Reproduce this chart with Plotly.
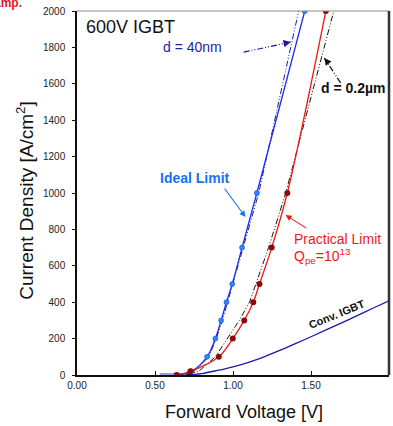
import plotly.graph_objects as go

# Forward voltage [V] / current density [A/cm^2] data for the 600V IGBT comparison
ideal_v = [0.641, 0.733, 0.834, 0.887, 0.924, 0.958, 0.995, 1.058, 1.153, 1.460]
ideal_j = [0, 20, 100, 200, 300, 400, 500, 700, 1000, 2000]

practical_v = [0.639, 0.727, 0.909, 0.999, 1.072, 1.130, 1.170, 1.248, 1.348, 1.595]
practical_j = [0, 20, 100, 200, 300, 400, 500, 700, 1000, 2000]

d40_v = [0.66, 0.75, 0.845, 0.893, 0.932, 0.965, 1.000, 1.165, 1.421]
d40_j = [0, 20, 100, 200, 300, 400, 500, 1000, 2000]

d02_v = [0.70, 0.78, 0.887, 0.963, 1.040, 1.106, 1.228, 1.338, 1.646]
d02_j = [0, 20, 100, 200, 300, 400, 700, 1000, 2000]

conv_v = [0.70, 0.80, 0.90, 1.00, 1.10, 1.20, 1.30, 1.40, 1.50, 1.60, 1.70, 1.80, 1.90, 2.00]
conv_j = [0, 8, 25, 45, 70, 100, 135, 172, 210, 249, 288, 328, 368, 408]

base_v = [0.53, 0.72]
base_j = [0, 0]

x_ticks = [0.0, 0.5, 1.0, 1.5, 2.0]
x_tick_text = ["0.00", "0.50", "1.00", "1.50", "2.00"]
y_ticks = list(range(0, 2001, 200))

FONT = "Liberation Sans, Arial, sans-serif"
DASHDOT = "6px,2px,1px,2px,1px,2px"

fig = go.Figure()

fig.add_trace(go.Scatter(x=base_v, y=base_j, mode="lines",
                         line=dict(color="#9b9be8", width=4), hoverinfo="skip"))
fig.add_trace(go.Scatter(x=conv_v, y=conv_j, mode="lines", line_shape="spline",
                         line=dict(color="#1a1aa8", width=1.3), name="Conv. IGBT"))
fig.add_trace(go.Scatter(x=d40_v, y=d40_j, mode="lines",
                         line=dict(color="#1a1a9a", width=1, dash=DASHDOT), name="d = 40nm"))
fig.add_trace(go.Scatter(x=d02_v, y=d02_j, mode="lines",
                         line=dict(color="#111111", width=1, dash=DASHDOT), name="d = 0.2um"))
fig.add_trace(go.Scatter(x=ideal_v, y=ideal_j, mode="lines+markers", line_shape="spline",
                         line=dict(color="#1c2cf0", width=1.3),
                         marker=dict(color="#1f8fff", size=5, line=dict(color="#1c2cf0", width=0.5)),
                         name="Ideal Limit"))
fig.add_trace(go.Scatter(x=practical_v, y=practical_j, mode="lines+markers", line_shape="spline",
                         line=dict(color="#f01818", width=1.3),
                         marker=dict(color="#8a0b0b", size=6),
                         name="Practical Limit"))

# leader lines for the dashed-curve labels
fig.add_shape(type="line", x0=1.068, y0=1774, x1=1.37, y1=1829,
              line=dict(color="#1a1a9a", width=1.2, dash=DASHDOT))
fig.add_shape(type="line", x0=1.69, y0=1605, x1=1.585, y1=1742,
              line=dict(color="#111111", width=1.2, dash=DASHDOT))

# frame: gray top edge, dark right edge
fig.add_shape(type="line", xref="paper", yref="paper", x0=0, y0=1, x1=1, y1=1,
              line=dict(color="#8a8a8a", width=1))
fig.add_shape(type="line", xref="paper", yref="paper", x0=1, y0=0, x1=1, y1=1,
              line=dict(color="#333333", width=2.5))

ann = []
ann.append(dict(x=0.045, y=1912, text="600V IGBT", showarrow=False, xanchor="left",
                font=dict(family=FONT, size=18, color="#111111")))
ann.append(dict(x=0.74, y=1802, text="d = 40nm", showarrow=False,
                font=dict(family=FONT, size=14, color="#1f1fa0")))
ann.append(dict(x=1.37, y=1829, ax=-7, ay=1.5, text="", showarrow=True,
                arrowhead=2, arrowsize=1.2, arrowwidth=1.2, arrowcolor="#1a1a9a"))
ann.append(dict(x=1.768, y=1577, text="<b>d = 0.2µm</b>", showarrow=False,
                font=dict(family=FONT, size=14, color="#111111")))
ann.append(dict(x=1.585, y=1742, ax=5, ay=6.5, text="", showarrow=True,
                arrowhead=2, arrowsize=1.2, arrowwidth=1.2, arrowcolor="#111111"))
ann.append(dict(x=0.759, y=1082, text="<b>Ideal Limit</b>", showarrow=False,
                font=dict(family=FONT, size=14, color="#1a6ff0")))
ann.append(dict(x=1.080, y=868, ax=0.939, ay=1033, axref="x", ayref="y", text="",
                showarrow=True, arrowhead=2, arrowsize=1.1, arrowwidth=1.1,
                arrowcolor="#1a6ff0"))
ann.append(dict(x=1.376, y=747, text="Practical Limit", showarrow=False, xanchor="left",
                font=dict(family=FONT, size=14, color="#f01818")))
ann.append(dict(x=1.376, y=655, text="Q<sub>pe</sub>=10<sup>13</sup>", showarrow=False,
                xanchor="left", font=dict(family=FONT, size=14, color="#f01818")))
ann.append(dict(x=1.337, y=879, ax=1.479, ay=802, axref="x", ayref="y", text="",
                showarrow=True, arrowhead=2, arrowsize=1.1, arrowwidth=1.1,
                arrowcolor="#f01818"))
ann.append(dict(x=1.666, y=335, text="<b>Conv. IGBT</b>", showarrow=False, textangle=-22,
                font=dict(family=FONT, size=11, color="#111111")))

# axis titles
ann.append(dict(xref="paper", yref="paper", x=-0.167, y=0.481, xanchor="center",
                yanchor="middle", text="Current Density [A/cm<sup>2</sup>]", textangle=-90,
                showarrow=False, font=dict(family=FONT, size=19, color="#111111")))
ann.append(dict(xref="paper", yref="paper", x=0.535, y=-0.102, xanchor="center",
                text="Forward Voltage [V]", showarrow=False, yanchor="middle",
                font=dict(family=FONT, size=18, color="#111111")))
# clipped caption at the page corner
ann.append(dict(xref="paper", yref="paper", x=-0.17, y=1.022, xanchor="right",
                yanchor="middle", text="<b>amp.</b>", showarrow=False,
                font=dict(family=FONT, size=12, color="#e8141e")))

fig.update_layout(
    width=393, height=426,
    margin=dict(l=77, r=4, t=11, b=51),
    paper_bgcolor="white", plot_bgcolor="white",
    showlegend=False,
    annotations=ann,
    xaxis=dict(range=[0, 2.0], tickvals=x_ticks, ticktext=x_tick_text,
               showgrid=False, zeroline=False, showline=True, linecolor="#111111",
               linewidth=1.5, ticks="inside", ticklen=4, tickcolor="#111111",
               tickfont=dict(family=FONT, size=10, color="#222222"),
               fixedrange=True),
    yaxis=dict(range=[0, 2000], tickvals=y_ticks, showgrid=False, zeroline=False,
               showline=True, linecolor="#111111", linewidth=1.5,
               ticks="outside", ticklen=3, tickcolor="#111111",
               tickfont=dict(family=FONT, size=10, color="#222222"),
               ticklabelstandoff=5, fixedrange=True),
)

fig.write_html("out.html")
